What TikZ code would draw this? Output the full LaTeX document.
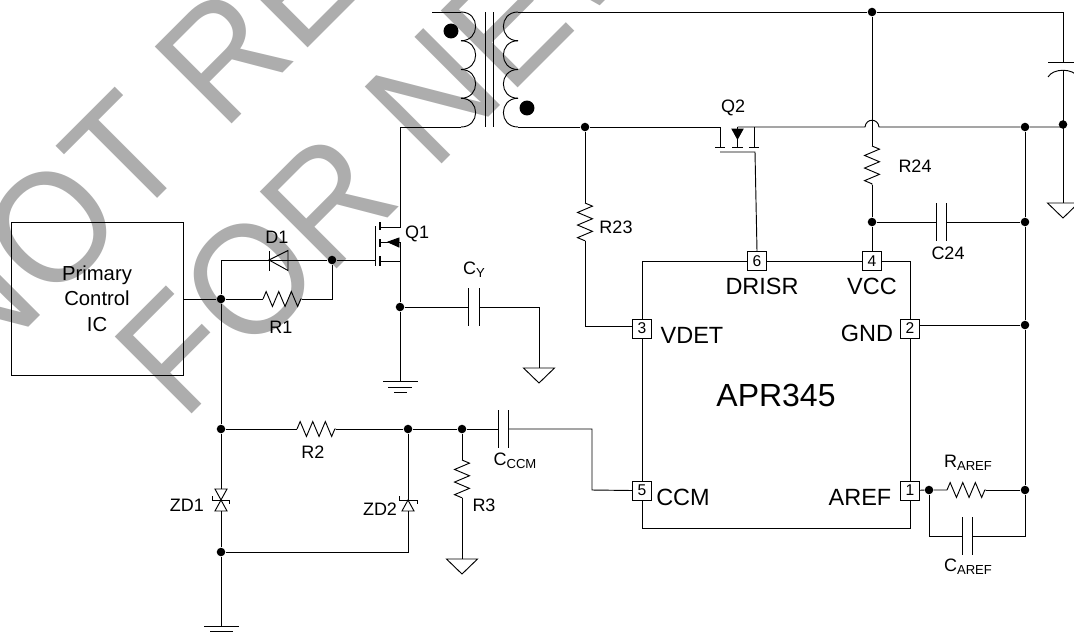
\documentclass[tikz,border=0pt]{standalone}
\usepackage{fontspec}
\setmainfont{Liberation Sans}
\usepackage{tikz}
\usetikzlibrary{decorations.pathmorphing}
\definecolor{wmgray}{HTML}{ADADAD}
\newcommand{\subtxt}[1]{\raisebox{-2.2pt}{\fontsize{9.8}{12}\selectfont #1}}
\newcommand{\gndtri}[1]{\draw (#1) -- ++(-15.5,0) -- ++(15.5,15) -- ++(15.5,-15) -- cycle;}
\tikzset{
	wire/.style={line width=0.7pt},
	junc/.style={circle,fill=black,draw=none,inner sep=0pt,minimum size=6.4pt},
	bigdot/.style={circle,fill=black,draw=none,inner sep=0pt,minimum size=11.2pt},
	pinbox/.style={draw,fill=white,line width=0.6pt,inner sep=0pt,minimum size=14.2pt,font=\fontsize{11.7}{12}\selectfont},
	lbl/.style={inner sep=0pt,font=\fontsize{13.5}{16}\selectfont},
	pinlbl/.style={inner sep=0pt,font=\fontsize{17.6}{20}\selectfont},
	res/.style={wire,decorate,decoration={zigzag,amplitude=5.6pt,segment length=9.45pt}},
	capnode/.style={inner sep=0pt,minimum width=7pt,minimum height=27.5pt,
		append after command={(\tikzlastnode.north west) edge [wire] (\tikzlastnode.south west)
		(\tikzlastnode.north east) edge [wire] (\tikzlastnode.south east)}},
	wmark/.style={inner sep=0pt,anchor=base west,rotate=45,text=wmgray,font=\fontsize{118.5}{118.5}\selectfont}
}
\begin{document}
\begin{tikzpicture}[x=0.75pt,y=-0.75pt,wire]
	\useasboundingbox (0,0) rectangle (1074,636);
	\clip (0,0) rectangle (1074,636);
	\node [wmark] (WM1) at (-26.8,382.8) {\scalebox{0.937}[1]{NOT RE}};
	\node [wmark] (WM2) at (183.2,422.8) {\scalebox{0.937}[1]{FOR NEW}};

	% transformer
	\coordinate (Ptop) at (461,12);
	\coordinate (Pbot) at (461,127);
	\coordinate (Stop) at (518,12);
	\coordinate (Sbot) at (518,127);
	\foreach \y in {12,40.75,69.5,98.25} {
		\draw (461,\y) .. controls (480.5,\y) and (480.5,\y+28.75) .. (461,\y+28.75);
		\draw (518,\y) .. controls (498.5,\y) and (498.5,\y+28.75) .. (518,\y+28.75);
	}
	\draw (485.7,12) -- (485.7,127);
	\draw (493,12) -- (493,127);
	\node [bigdot] (DotP) at (451,31) {};
	\node [bigdot] (DotS) at (527,108) {};

	% nodes
	\node [draw,minimum width=129pt,minimum height=114.75pt,inner sep=0pt,align=center,font=\fontsize{15.2}{19}\selectfont] (IC1) at (97,298.5) {Primary\\Control\\IC};
	\node [draw,minimum width=201pt,minimum height=200.25pt,inner sep=0pt] (IC2) at (776,394.5) {};
	\node [inner sep=0pt,font=\fontsize{24}{26}\selectfont] (Name) at (776,395) {APR345};
	\node [pinbox] (P6) at (757,261) {6};
	\node [pinbox] (P4) at (872,261) {4};
	\node [pinbox] (P3) at (642,328.5) {3};
	\node [pinbox] (P2) at (910,328.5) {2};
	\node [pinbox] (P5) at (642,490.5) {5};
	\node [pinbox] (P1) at (910,490.5) {1};
	\node [pinlbl] (DRISR) at (762,286) {DRISR};
	\node [pinlbl] (VCC) at (872,286) {VCC};
	\node [pinlbl] (VDET) at (692,335) {VDET};
	\node [pinlbl] (GND) at (867,333) {GND};
	\node [pinlbl] (CCM) at (683,497) {CCM};
	\node [pinlbl] (AREF) at (860,497) {AREF};

	\node [junc] (J1) at (872,12) {};
	\node [junc] (J2) at (585,127) {};
	\node [junc] (J3) at (1025,127) {};
	\node [junc] (J4) at (1063,124.5) {};
	\node [junc] (J5) at (872,222) {};
	\node [junc] (J6) at (1025,222) {};
	\node [junc] (J7) at (1025,325) {};
	\node [junc] (J8) at (1025,490) {};
	\node [junc] (J9) at (929,490) {};
	\node [junc] (J10) at (332,260) {};
	\node [junc] (J11) at (221,299) {};
	\node [junc] (J12) at (400,307) {};
	\node [junc] (J13) at (221,429) {};
	\node [junc] (J14) at (408,429) {};
	\node [junc] (J15) at (462,429) {};
	\node [junc] (J16) at (221,552) {};

	\node [capnode] (CY) at (474,307) {};
	\node [capnode] (C24) at (941.5,222) {};
	\node [capnode] (CCCMp) at (503.5,429) {};
	\node [capnode] (CAREFp) at (967.5,536) {};

	\coordinate (R23a) at (585,203);
	\coordinate (R23b) at (585,241);
	\coordinate (R24a) at (872,146);
	\coordinate (R24b) at (872,185);
	\coordinate (R1a) at (263,299);
	\coordinate (R1b) at (302,299);
	\coordinate (R2a) at (297,429);
	\coordinate (R2b) at (336,429);
	\coordinate (R3a) at (462,460);
	\coordinate (R3b) at (462,498);
	\coordinate (RFa) at (947,490);
	\coordinate (RFb) at (986,490);
	\draw [res] (R23a) -- (R23b);
	\draw [res] (R24a) -- (R24b);
	\draw [res] (R1a) -- (R1b);
	\draw [res] (R2a) -- (R2b);
	\draw [res] (R3a) -- (R3b);
	\draw [res] (RFa) -- (RFb);

	% output side
	\coordinate (Cout) at (1063,62);
	\coordinate (Cout2) at (1063,70);
	\coordinate (Gnd1) at (1063,203);
	\draw (432,12) -- (Ptop);
	\draw (Stop) -- (J1) -- (1063,12) -- (Cout);
	\draw (1048,62) -- (1078,62);
	\draw (1048,77) .. controls (1053,68) and (1073,68) .. (1078,77);
	\draw (Cout2) -- (Gnd1);
	\gndtri{Gnd1}
	\draw (J1) -- (R24a);
	\draw (R24b) -- (J5) -- (P4.north);
	\draw (J5) -- (C24.west);
	\draw (C24.east) -- (J6);
	\draw (Sbot) -- (J2) -- (720,127) -- (720,147);
	\draw (737.5,127) -- (865,127) .. controls (866,118) and (878,118) .. (879,127) -- (J3) -- (J4 |- J3);
	\draw (J3) -- (J6) -- (J7) -- (J8) -- (1025,536) -- (CAREFp.east);
	\draw (J9) |- (CAREFp.west);
	\draw (P1) -- (J9) -- (RFa);
	\draw (RFb) -- (J8);
	\draw (J7) -- (P2.east |- J7);
	\draw (J2) -- (R23a);
	\coordinate (P3in) at (632,326);
	\draw (R23b) |- (P3in);

	% Q2
	\coordinate (Q2g) at (755,152);
	\draw (715,147) -- (725,147);
	\draw (732,147) -- (743,147);
	\draw (749,147) -- (759,147);
	\draw (737.5,127) -- (737.5,147);
	\draw (754,127) -- (754,147);
	\draw (720,152) -- (Q2g) -- (P6.north);
	\draw [fill=black] (732,129) -- (743,129) -- (737.5,139) -- cycle;
	\node [lbl] (Q2) at (733,108) {Q2};

	% primary side
	\draw (Pbot) -- (400,127) -- (400,227) -- (380,227);
	\draw (380,242) -- (400,242) -- (J12);
	\draw (380,261) -- (400,261);
	\draw [line width=1pt] (380,222) -- (380,230);
	\draw [line width=1pt] (380,239) -- (380,247);
	\draw [line width=1pt] (380,256) -- (380,266);
	\draw (375,226) -- (375,266);
	\draw [fill=black] (388,242) -- (399,238) -- (399,247) -- cycle;
	\draw (J10) -- (375,260);
	\draw (J10) |- (R1b);
	\draw (IC1.east |- J11) -- (J11) -- (R1a);
	\draw (J11) -- (221,260) -- (J10);
	\draw (269,251) -- (269,271);
	\draw (269,260) -- (288,250.5) -- (288,270.5) -- cycle;
	\node [lbl] (Q1) at (417,234) {Q1};
	\node [lbl] (D1) at (277,237) {D1};
	\node [lbl] (R1) at (281,327) {R1};

	\coordinate (Gnd2) at (539,368);
	\coordinate (Gnd3) at (400,381);
	\draw (J12) -- (CY.west);
	\draw (CY.east) -- (539,307) -- (Gnd2);
	\gndtri{Gnd2}
	\draw (J12) -- (Gnd3);
	\draw (383,381) -- (418,381);
	\draw (388,387) -- (412,387);
	\draw (394,392) -- (407,392);
	\node [lbl] (CYl) at (474,270) {C\subtxt{Y}};

	% lower part
	\coordinate (Gnd4) at (221,626);
	\coordinate (Gnd5) at (462,559);
	\draw (J11) -- (J13) -- (221,489);
	\draw (221,511) -- (J16) -- (Gnd4);
	\draw (204,626) -- (239,626);
	\draw (210,631) -- (233,631);
	\draw (215,489) -- (227,489) -- (221,500) -- cycle;
	\draw (215,511) -- (227,511) -- (221,500) -- cycle;
	\draw (212,496) -- (212,500) -- (229,500) -- (229,504);
	\draw (J13) -- (R2a);
	\draw (R2b) -- (J14) -- (J15) -- (CCCMp.west);
	\draw (J14) -- (408,500);
	\draw (399,496) -- (399,500) -- (417,500) -- (417,504);
	\draw (402,511) -- (414,511) -- (408,500) -- cycle;
	\draw (408,511) -- (408,552) -- (J16);
	\draw (J15) -- (R3a);
	\draw (R3b) -- (Gnd5);
	\gndtri{Gnd5}
	\draw (CCCMp.east) -- (592,429) -- (592,490) -- (P5.west);
	\node [lbl] (R2) at (313,452) {R2};
	\node [lbl] (ZD1) at (187,505) {ZD1};
	\node [lbl] (ZD2) at (380,509) {ZD2};
	\node [lbl] (R3) at (484,505) {R3};

	\node [lbl] (R23) at (616,227) {R23};
	\node [lbl] (R24) at (915,166) {R24};
	\node [lbl] (C24l) at (948,253) {C24};
	\node [lbl] (CCCMl) at (515,461) {C\subtxt{CCM}};
	\node [lbl] (RFl) at (968,463) {R\subtxt{AREF}};
	\node [lbl] (CFl) at (968,567) {C\subtxt{AREF}};
\end{tikzpicture}
\end{document}
